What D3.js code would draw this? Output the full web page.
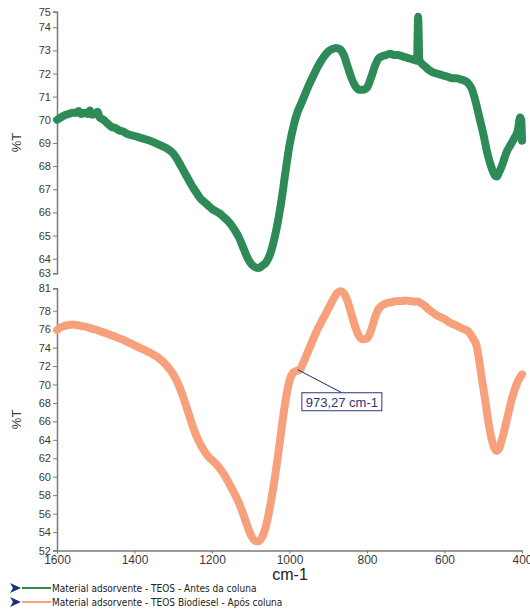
<!DOCTYPE html>
<html>
<head>
<meta charset="utf-8">
<script src="https://cdn.jsdelivr.net/npm/d3@7"></script>
<style>
  body { margin: 0; background: #fff; }
  svg { font-family: "Liberation Sans", Arial, sans-serif; }
</style>
</head>
<body>
<div id="chart"></div>
<script>
// x axis (cm-1)
const xDomain = [1600, 400];
const xTicks = [1600, 1400, 1200, 1000, 800, 600, 400];

// top panel: before column
const topDomain = [63.37, 74.67];
const topTicks = [64, 65, 66, 67, 68, 69, 70, 71, 72, 73, 74];

// bottom panel: after column
const bottomDomain = [52.0, 80.43];
const bottomTicks = [54, 56, 58, 60, 62, 64, 66, 68, 70, 72, 74, 76, 78];

const seriesNames = [
  "Material adsorvente - TEOS - Antes da coluna",
  "Material adsorvente - TEOS Biodiesel - Após coluna"
];
const seriesColors = ["#2e8b57", "#f7a07c"];

// [wavenumber, %T]
const antesData = [
  [1600,70.0],[1590,70.1],[1580,70.2],[1570,70.25],[1560,70.3],[1550,70.3],[1545,70.38],
  [1538,70.25],[1530,70.3],[1520,70.25],[1515,70.4],[1510,70.22],[1500,70.28],[1495,70.35],
  [1490,70.1],[1480,70.0],[1470,69.85],[1460,69.7],[1450,69.65],[1440,69.55],[1430,69.5],
  [1420,69.4],[1400,69.3],[1380,69.2],[1360,69.1],[1340,68.95],[1320,68.8],[1300,68.55],
  [1290,68.3],[1280,68.0],[1270,67.7],[1260,67.4],[1250,67.1],[1240,66.85],[1230,66.6],
  [1220,66.45],[1210,66.3],[1200,66.15],[1190,66.05],[1180,65.95],[1170,65.8],[1160,65.65],
  [1150,65.45],[1140,65.2],[1130,64.9],[1120,64.5],[1110,64.1],[1100,63.8],[1090,63.65],
  [1080,63.6],[1070,63.7],[1060,63.85],[1050,64.2],[1040,64.8],[1030,65.6],[1020,66.6],
  [1010,67.8],[1000,68.9],[990,69.7],[980,70.3],[970,70.7],[960,71.1],[950,71.5],[940,71.85],
  [930,72.2],[920,72.5],[910,72.75],[900,72.95],[890,73.05],[880,73.1],[870,73.05],[860,72.8],
  [850,72.3],[840,71.8],[830,71.45],[820,71.3],[810,71.3],[800,71.4],[790,71.8],[780,72.3],
  [770,72.65],[760,72.75],[750,72.8],[740,72.85],[730,72.8],[720,72.8],[710,72.75],[700,72.7],
  [690,72.65],[680,72.6],[671,72.55],[668,74.45],[665,72.6],[660,72.45],[650,72.3],[640,72.15],
  [630,72.05],[620,72.0],[610,71.95],[600,71.9],[590,71.85],[580,71.8],[570,71.8],[560,71.75],
  [550,71.7],[540,71.6],[530,71.35],[520,70.8],[510,70.1],[500,69.4],[490,68.6],[480,68.0],
  [470,67.6],[465,67.55],[460,67.7],[450,68.1],[440,68.6],[430,68.9],[420,69.2],[410,69.6],
  [405,70.1],[402,70.0],[400,69.1]
];

const aposData = [
  [1600,75.9],[1590,76.2],[1580,76.35],[1570,76.45],[1560,76.5],[1550,76.45],[1540,76.35],
  [1530,76.3],[1520,76.2],[1510,76.05],[1500,75.95],[1490,75.8],[1480,75.65],[1470,75.5],
  [1460,75.35],[1450,75.2],[1440,75.0],[1430,74.85],[1420,74.65],[1410,74.45],[1400,74.25],
  [1390,74.05],[1380,73.85],[1370,73.65],[1360,73.45],[1350,73.2],[1340,72.95],[1330,72.6],
  [1320,72.2],[1310,71.7],[1300,71.1],[1290,70.3],[1280,69.3],[1270,68.1],[1260,66.8],
  [1250,65.5],[1240,64.4],[1230,63.5],[1220,62.8],[1210,62.2],[1200,61.8],[1190,61.4],
  [1180,60.9],[1170,60.3],[1160,59.6],[1150,58.8],[1140,58.0],[1130,57.1],[1120,56.0],
  [1110,54.8],[1100,53.7],[1090,53.1],[1080,53.0],[1070,53.5],[1060,54.8],[1050,56.8],
  [1040,59.3],[1030,62.2],[1020,65.4],[1010,68.3],[1000,70.4],[990,71.3],[980,71.5],
  [973,71.6],[965,72.3],[955,73.3],[945,74.3],[935,75.3],[925,76.2],[915,77.0],[905,77.8],
  [895,78.6],[885,79.4],[875,80.0],[868,80.1],[860,79.9],[850,79.0],[840,77.6],[830,76.2],
  [820,75.2],[810,74.9],[800,75.0],[790,75.8],[780,77.2],[770,78.2],[760,78.6],[750,78.8],
  [740,78.9],[730,79.0],[720,79.05],[710,79.05],[700,79.1],[690,79.05],[680,79.0],[670,79.0],
  [660,78.8],[650,78.5],[640,78.1],[630,77.8],[620,77.5],[610,77.3],[600,77.1],[590,76.8],
  [580,76.6],[570,76.4],[560,76.2],[550,76.0],[540,75.8],[532,75.4],[525,74.9],[518,74.3],
  [512,73.0],[505,71.0],[495,68.3],[485,65.5],[478,64.0],[470,63.0],[465,62.8],[460,63.0],
  [450,64.3],[440,66.0],[430,67.8],[420,69.3],[410,70.4],[400,71.1]
];

// peak annotation
const annotX = 973.27;
const annotY = 71.6;
const annotText = "973,27 cm-1";

const W = 530, H = 613;
const svg = d3.select("#chart").append("svg")
  .attr("width", W).attr("height", H);

const x = d3.scaleLinear().domain(xDomain).range([57, 522]);
const yTop = d3.scaleLinear().domain(topDomain).range([273.3, 11.7]);
const yBot = d3.scaleLinear().domain(bottomDomain).range([550.5, 288.3]);

const axisColor = "#7a7a7a";
const labelColor = "#3a3a3a";

function yAxis(scale, ticks, domain) {
  const vals = [domain[0]].concat(ticks, [domain[1]]);
  const g = svg.append("g")
    .attr("transform", "translate(57,0)")
    .call(d3.axisLeft(scale)
      .tickValues(vals)
      .tickSize(4)
      .tickSizeOuter(4)
      .tickPadding(2)
      .tickFormat((d, i) => i === 0 ? Math.floor(d) : (i === vals.length - 1 ? Math.ceil(d) : d)));
  g.select(".domain").attr("stroke", axisColor).attr("stroke-width", 1.5);
  g.selectAll(".tick line").attr("stroke", axisColor);
  g.selectAll(".tick text").attr("fill", labelColor).style("font-size", "11px");
  return g;
}

yAxis(yTop, topTicks, topDomain);
yAxis(yBot, bottomTicks, bottomDomain);

// x axis
const gx = svg.append("g")
  .attr("transform", "translate(0,550.5)")
  .call(d3.axisBottom(x).tickValues(xTicks).tickFormat(d3.format("d"))
    .tickSize(3).tickSizeOuter(0).tickPadding(2));
gx.select(".domain").attr("stroke", axisColor).attr("stroke-width", 1.5);
gx.selectAll(".tick line").attr("stroke", axisColor);
gx.selectAll(".tick text").attr("fill", labelColor).style("font-size", "12px");

// axis titles
svg.append("text")
  .attr("transform", "translate(21," + ((yTop.range()[0] + yTop.range()[1]) / 2) + ") rotate(-90)")
  .attr("text-anchor", "middle").style("font-size", "13px").attr("fill", labelColor)
  .text("%T");
svg.append("text")
  .attr("transform", "translate(21," + ((yBot.range()[0] + yBot.range()[1]) / 2) + ") rotate(-90)")
  .attr("text-anchor", "middle").style("font-size", "13px").attr("fill", labelColor)
  .text("%T");
svg.append("text")
  .attr("x", 290).attr("y", 580)
  .attr("text-anchor", "middle").style("font-size", "16px").attr("fill", "#222")
  .text("cm-1");

// curves
const lineTop = d3.line().x(d => x(d[0])).y(d => yTop(d[1])).curve(d3.curveMonotoneX);
const lineBot = d3.line().x(d => x(d[0])).y(d => yBot(d[1])).curve(d3.curveMonotoneX);

svg.append("path").datum(antesData)
  .attr("fill", "none").attr("stroke", seriesColors[0])
  .attr("stroke-width", 8).attr("stroke-linejoin", "round").attr("stroke-linecap", "round")
  .attr("d", lineTop);

svg.append("path").datum(aposData)
  .attr("fill", "none").attr("stroke", seriesColors[1])
  .attr("stroke-width", 8).attr("stroke-linejoin", "round").attr("stroke-linecap", "round")
  .attr("d", lineBot);

// annotation
const ax = x(annotX), ay = yBot(annotY);
svg.append("line")
  .attr("x1", ax - 2).attr("y1", ay).attr("x2", ax + 42).attr("y2", ay + 23)
  .attr("stroke", "#1f2a6b").attr("stroke-width", 1);
svg.append("rect")
  .attr("x", ax + 2).attr("y", ay + 23).attr("width", 80).attr("height", 18)
  .attr("fill", "#fff").attr("stroke", "#2b3580").attr("stroke-width", 1);
svg.append("text")
  .attr("x", ax + 42).attr("y", ay + 37)
  .attr("text-anchor", "middle").style("font-size", "13px").attr("fill", "#2b3580")
  .text(annotText);

// legend
const legend = svg.append("g");
seriesNames.forEach((name, i) => {
  const yy = 588 + i * 14;
  legend.append("path")
    .attr("d", `M10,${yy - 5} L21,${yy} L10,${yy + 5} L13,${yy} Z`)
    .attr("fill", "#1d2f7a");
  legend.append("line")
    .attr("x1", 22).attr("x2", 51).attr("y1", yy).attr("y2", yy)
    .attr("stroke", seriesColors[i]).attr("stroke-width", 2);
  legend.append("text")
    .attr("x", 52).attr("y", yy + 3.5)
    .style("font-size", "10px").attr("fill", "#222")
    .style("font-family", "'DejaVu Sans', sans-serif")
    .style("font-stretch", "condensed")
    .text(name);
});
</script>
</body>
</html>
